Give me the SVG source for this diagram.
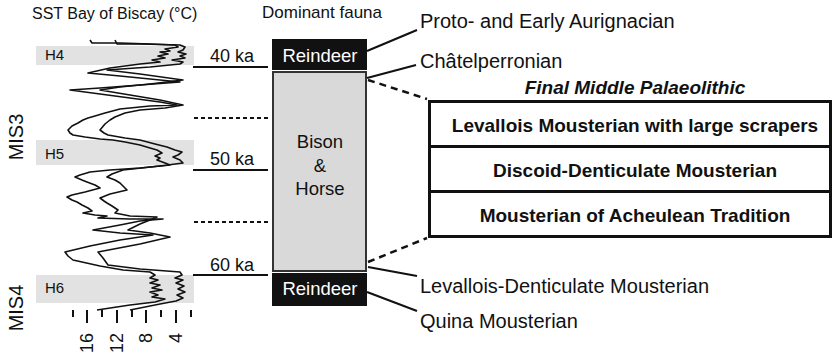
<svg xmlns="http://www.w3.org/2000/svg" width="834" height="358" viewBox="0 0 834 358">
<style>
text{font-family:"Liberation Sans",Arial,sans-serif;fill:#111}
.lab{font-size:20px}
.bold{font-size:19px;font-weight:bold}
.age{font-size:18px;text-anchor:middle}
.wht{fill:#fff;font-size:18.5px;text-anchor:middle}
.fa{font-size:18.5px;text-anchor:middle}
.band{fill:#e2e2e2}
.curve{fill:none;stroke:#111;stroke-width:1.6;stroke-linejoin:round}
.ln{stroke:#111;stroke-width:2;fill:none}
.dot{stroke:#111;stroke-width:2;stroke-dasharray:4 3;fill:none}
.dash{stroke:#111;stroke-width:2.5;stroke-dasharray:7 5;fill:none}
.tick{stroke:#111;stroke-width:2}
.row{fill:#fff;stroke:#111;stroke-width:3}
</style>
<rect width="834" height="358" fill="#fff"/>

<g id="sst-chart">
  <text x="32" y="19" style="font-size:16px">SST Bay of Biscay (°C)</text>
  <rect class="band" x="36" y="46" width="158" height="19"/>
  <rect class="band" x="36" y="140" width="158" height="25"/>
  <rect class="band" x="36" y="275" width="158" height="28"/>
  <text x="45" y="60" style="font-size:15px">H4</text>
  <text x="45" y="159" style="font-size:15px">H5</text>
  <text x="45" y="293" style="font-size:15px">H6</text>
  <text transform="translate(23,137) rotate(-90)" style="font-size:20px;text-anchor:middle">MIS3</text>
  <text transform="translate(23,308) rotate(-90)" style="font-size:20px;text-anchor:middle">MIS4</text>
  <polyline class="curve" points="90,40 92,43 120,43 150,44 175,45 178,47 165,49 170,51 160,52 168,54 158,56 165,58 152,60 160,62 140,64 110,68 88,73 120,76 150,79 180,82 140,85 100,88 70,90 100,94 130,98 160,102 177,105 150,106 120,109 105,113 95,116 88,118 83,120 78,123 72,126 68,130 70,133 73,135 85,137 100,139 113,140 125,142 140,145 150,148 157,150 162,153 155,156 160,158 157,160 165,163 170,165 140,168 110,170 90,172 80,175 75,177 82,180 87,182 95,185 100,188 85,192 72,195 67,197 72,200 77,202 82,205 88,208 92,211 83,213 95,215 107,216 98,218 130,219 163,219 140,221 120,225 93,230 120,233 153,235 120,240 90,246 65,252 68,256 73,260 100,266 123,270 150,272 155,275 150,278 158,280 150,283 160,285 152,288 162,290 150,292 158,295 152,297 165,299 155,302 130,305 97,310"/>
  <polyline class="curve" points="115,40 117,44 140,44 180,45 185,47 183,50 178,52 186,54 180,56 185,58 172,60 183,62 180,64 150,67 107,70 140,74 183,80 150,84 120,87 100,90 130,95 160,100 183,105 165,108 140,110 125,113 115,117 110,120 105,124 100,130 104,133 108,135 125,138 140,140 155,144 167,147 175,150 182,152 178,155 173,157 180,160 183,163 160,166 123,170 112,174 107,177 115,180 120,183 127,190 110,194 100,198 104,201 107,203 112,206 118,210 115,213 130,216 157,217 150,220 140,224 128,230 150,233 170,237 140,244 98,252 103,258 108,265 140,269 180,272 182,275 175,278 183,280 176,283 184,286 178,289 185,292 177,295 183,298 176,301 160,304 130,310"/>
  <g id="axis">
    <line class="tick" x1="73" y1="310" x2="73" y2="317"/>
    <line class="tick" x1="87" y1="310" x2="87" y2="323"/>
    <line class="tick" x1="102" y1="310" x2="102" y2="317"/>
    <line class="tick" x1="117" y1="310" x2="117" y2="323"/>
    <line class="tick" x1="132" y1="310" x2="132" y2="317"/>
    <line class="tick" x1="146" y1="310" x2="146" y2="323"/>
    <line class="tick" x1="161" y1="310" x2="161" y2="317"/>
    <line class="tick" x1="176" y1="310" x2="176" y2="323"/>
    <line class="tick" x1="191" y1="310" x2="191" y2="317"/>
    <text transform="translate(93,333) rotate(-90)" style="font-size:18px;text-anchor:end">16</text>
    <text transform="translate(123,333) rotate(-90)" style="font-size:18px;text-anchor:end">12</text>
    <text transform="translate(152,333) rotate(-90)" style="font-size:18px;text-anchor:end">8</text>
    <text transform="translate(182,333) rotate(-90)" style="font-size:18px;text-anchor:end">4</text>
  </g>
</g>

<g id="ages">
  <text class="age" x="232" y="62">40 ka</text>
  <text class="age" x="232" y="165">50 ka</text>
  <text class="age" x="232" y="271">60 ka</text>
</g>

<g id="fauna-title"><text x="322" y="18" style="font-size:17px;text-anchor:middle">Dominant fauna</text></g>
<g id="reindeer-top">
  <rect x="272" y="39" width="95" height="31" fill="#111"/>
  <text class="wht" x="320" y="62">Reindeer</text>
</g>
<g id="bison-horse">
  <rect x="273" y="72" width="93" height="199" fill="#d9d9d9" stroke="#333" stroke-width="2"/>
  <text class="fa" x="320" y="148">Bison</text>
  <text class="fa" x="320" y="172">&amp;</text>
  <text class="fa" x="320" y="195">Horse</text>
</g>
<g id="reindeer-bottom">
  <rect x="272" y="273" width="95" height="33" fill="#111"/>
  <text class="wht" x="320" y="295">Reindeer</text>
</g>

<g id="label-proto"><text class="lab" x="420" y="28">Proto- and Early Aurignacian</text></g>
<g id="label-chatel"><text class="lab" x="420" y="68">Châtelperronian</text></g>
<g id="label-levden"><text class="lab" x="420" y="293">Levallois-Denticulate Mousterian</text></g>
<g id="label-quina"><text class="lab" x="420" y="328">Quina Mousterian</text></g>

<g id="fmp-panel">
  <text x="635" y="94" style="font-size:19px;font-weight:bold;font-style:italic;text-anchor:middle">Final Middle Palaeolithic</text>
  <rect class="row" x="429.5" y="101.5" width="401" height="45"/>
  <rect class="row" x="429.5" y="146.5" width="401" height="45"/>
  <rect class="row" x="429.5" y="191.5" width="401" height="45"/>
  <text class="bold" x="635" y="132" text-anchor="middle">Levallois Mousterian with large scrapers</text>
  <text class="bold" x="635" y="177" text-anchor="middle">Discoid-Denticulate Mousterian</text>
  <text class="bold" x="635" y="222" text-anchor="middle">Mousterian of Acheulean Tradition</text>
</g>

<g id="connectors">
  <line class="ln" x1="193" y1="67" x2="268" y2="67"/>
  <line class="ln" x1="193" y1="170" x2="268" y2="170"/>
  <line class="ln" x1="193" y1="275" x2="268" y2="275"/>
  <line class="dot" x1="194" y1="118" x2="268" y2="118"/>
  <line class="dot" x1="194" y1="222" x2="268" y2="222"/>
  <line class="ln" x1="367" y1="51" x2="417" y2="30"/>
  <line class="ln" x1="367" y1="78" x2="416" y2="65"/>
  <line class="ln" x1="368" y1="267" x2="417" y2="276"/>
  <line class="ln" x1="367" y1="292" x2="417" y2="311"/>
  <line class="dash" x1="368" y1="80" x2="427" y2="99"/>
  <line class="dash" x1="368" y1="262" x2="427" y2="238"/>
</g>
</svg>
